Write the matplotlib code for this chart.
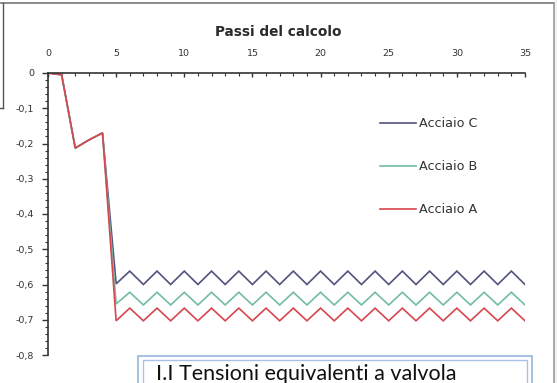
import matplotlib
matplotlib.use("Agg")
import matplotlib.pyplot as plt
from matplotlib.lines import Line2D
from matplotlib.patches import Rectangle
from matplotlib.ticker import MultipleLocator, FuncFormatter

# ---- data ----
steps = list(range(0, 36))
acciaio_a = [0.0, -0.005, -0.213, -0.19, -0.17, -0.703,
             -0.667, -0.703, -0.667, -0.703, -0.667, -0.703, -0.667, -0.703, -0.667, -0.703,
             -0.667, -0.703, -0.667, -0.703, -0.667, -0.703, -0.667, -0.703, -0.667, -0.703,
             -0.667, -0.703, -0.667, -0.703, -0.667, -0.703, -0.667, -0.703, -0.667, -0.703]
acciaio_b = [0.0, -0.005, -0.213, -0.19, -0.17, -0.655,
             -0.622, -0.658, -0.622, -0.658, -0.622, -0.658, -0.622, -0.658, -0.622, -0.658,
             -0.622, -0.658, -0.622, -0.658, -0.622, -0.658, -0.622, -0.658, -0.622, -0.658,
             -0.622, -0.658, -0.622, -0.658, -0.622, -0.658, -0.622, -0.658, -0.622, -0.658]
acciaio_c = [0.0, -0.005, -0.213, -0.19, -0.17, -0.598,
             -0.562, -0.600, -0.562, -0.600, -0.562, -0.600, -0.562, -0.600, -0.562, -0.600,
             -0.562, -0.600, -0.562, -0.600, -0.562, -0.600, -0.562, -0.600, -0.562, -0.600,
             -0.562, -0.600, -0.562, -0.600, -0.562, -0.600, -0.562, -0.600, -0.562, -0.600]
series_labels = ["Acciaio C", "Acciaio B", "Acciaio A"]
x_title = "Passi del calcolo"
caption = "I.I Tensioni equivalenti a valvola"

W, H = 557, 383
fig = plt.figure(figsize=(W / 100, H / 100), dpi=100)
fig.patch.set_facecolor("white")

def fx(px):
    return px / W

def fy(py):
    return 1 - py / H

# document frame lines
fig.add_artist(Line2D([0, fx(554)], [fy(3), fy(3)], color="#777777", lw=1.2))
fig.add_artist(Line2D([fx(554), fx(554)], [0, fy(3)], color="#999999", lw=1.2))
fig.add_artist(Line2D([fx(3), fx(3)], [fy(3), fy(108)], color="#555555", lw=1.0))
fig.add_artist(Line2D([0, fx(3)], [fy(108), fy(108)], color="#555555", lw=1.0))
fig.add_artist(Rectangle((fx(555), 0), 1 - fx(555), 1, color="#f2f2f2", zorder=-1))

# axes
ax_left, ax_right, ax_top, ax_bot = 48, 525, 73, 355
ax = fig.add_axes([fx(ax_left), fy(ax_bot), fx(ax_right - ax_left), (ax_bot - ax_top) / H])
ax.set_facecolor("none")

colors = {"Acciaio C": "#50537e", "Acciaio B": "#72bca5", "Acciaio A": "#d8464e"}
for lab, vals in zip(series_labels, [acciaio_c, acciaio_b, acciaio_a]):
    ax.plot(steps, vals, color=colors[lab], lw=1.2, label=lab, solid_joinstyle="miter")

ax.set_xlim(0, 35)
ax.set_ylim(-0.8, 0)
for s in ["right", "bottom"]:
    ax.spines[s].set_visible(False)
ax.spines["top"].set_color("#333333")
ax.spines["left"].set_color("#333333")
ax.spines["top"].set_linewidth(1.2)
ax.spines["left"].set_linewidth(1.2)

ax.xaxis.tick_top()
ax.xaxis.set_major_locator(MultipleLocator(5))
ax.xaxis.set_minor_locator(MultipleLocator(1))
ax.yaxis.set_major_locator(MultipleLocator(0.1))
ax.yaxis.set_minor_locator(MultipleLocator(0.02))
ax.yaxis.set_major_formatter(FuncFormatter(lambda v, p: "0" if abs(v) < 1e-9 else f"{v:.1f}".replace(".", ",")))
ax.tick_params(axis="x", which="major", direction="in", length=3, width=1, color="#333333",
               labelsize=6.8, labelcolor="#333333", pad=11)
ax.tick_params(axis="x", which="minor", direction="in", length=2, width=0.8, color="#333333")
ax.tick_params(axis="y", which="major", direction="out", length=4, width=1, color="#333333",
               labelsize=6.8, labelcolor="#333333", pad=6)
ax.tick_params(axis="y", which="minor", direction="out", length=2.5, width=0.8, color="#333333")

fig.text(fx(278), fy(32), x_title, ha="center", va="center", fontsize=9.8,
         fontweight="bold", color="#2a2a2a")

leg = ax.legend(loc="upper left", bbox_to_anchor=(fx(380), fy(117)), bbox_transform=fig.transFigure,
                frameon=False, fontsize=9.2, handlelength=2.8, handletextpad=0.25,
                labelspacing=2.35, borderpad=0, borderaxespad=0)
for t in leg.get_texts():
    t.set_color("#333333")

# caption box (double light-blue border)
fig.add_artist(Rectangle((fx(138), fy(400)), fx(532 - 138), (400 - 356) / H,
                         fill=False, edgecolor="#a9c1e6", lw=1.5))
fig.add_artist(Rectangle((fx(143), fy(400)), fx(527 - 143), (400 - 360) / H,
                         fill=False, edgecolor="#a9c1e6", lw=1.0))
fig.text(fx(156), fy(380), caption, ha="left", va="baseline", fontsize=15.5,
         family="Lato", color="#111111")

fig.savefig("out.png", dpi=100, facecolor=fig.get_facecolor())
